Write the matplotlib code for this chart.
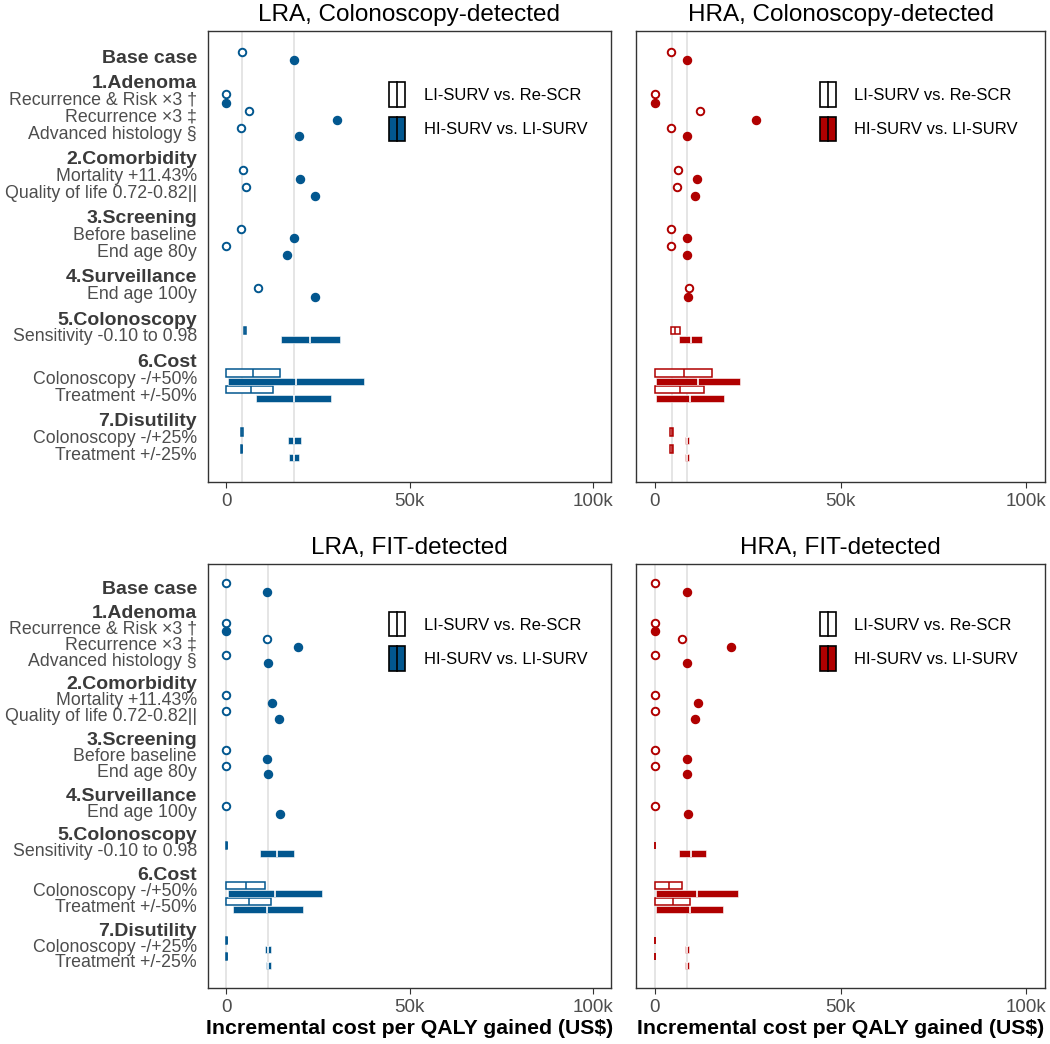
import matplotlib
matplotlib.use("Agg")
import matplotlib.pyplot as plt
from matplotlib.patches import Rectangle
from matplotlib.lines import Line2D
from matplotlib.legend_handler import HandlerBase
import numpy as np

plt.rcParams['font.family'] = ['Liberation Sans', 'DejaVu Sans']

# ---------------- data (values in US$ thousands) ----------------
base_label = "Base case"
groups = ["1.Adenoma", "2.Comorbidity", "3.Screening", "4.Surveillance",
          "5.Colonoscopy", "6.Cost", "7.Disutility"]
group_items = [
    ["Recurrence & Risk ×3 †", "Recurrence ×3 ‡", "Advanced histology §"],
    ["Mortality +11.43%", "Quality of life 0.72-0.82||"],
    ["Before baseline", "End age 80y"],
    ["End age 100y"],
    ["Sensitivity -0.10 to 0.98"],
    ["Colonoscopy -/+50%", "Treatment +/-50%"],
    ["Colonoscopy -/+25%", "Treatment +/-25%"],
]
# first 9 data rows are single point estimates, last 5 are ranges
panel_titles = ["LRA, Colonoscopy-detected", "HRA, Colonoscopy-detected",
                "LRA, FIT-detected", "HRA, FIT-detected"]
series_names = ["LI-SURV vs. Re-SCR", "HI-SURV vs. LI-SURV"]

# base-case reference lines (LI, HI)
base_lines = [(4.3, 18.6), (4.6, 8.75), (0.0, 11.4), (0.0, 8.75)]

# point rows: Base, RecRisk, Rec, Adv, Mort, QoL, Before, End80, End100
li_points = [
    [4.2, 0.0, 6.1, 4.1, 4.5, 5.5, 4.1, 0.0, 8.7],
    [4.4, 0.0, 12.1, 4.4, 6.25, 5.9, 4.4, 4.4, 9.2],
    [0.0, 0.0, 11.2, 0.0, 0.0, 0.0, 0.0, 0.0, 0.0],
    [0.0, 0.0, 7.4, 0.0, 0.0, 0.0, 0.0, 0.0, 0.0],
]
hi_points = [
    [18.6, 0.0, 30.1, 19.9, 20.2, 24.1, 18.5, 16.6, 24.1],
    [8.7, 0.0, 27.2, 8.7, 11.3, 11.0, 8.7, 8.7, 8.9],
    [11.2, 0.0, 19.6, 11.5, 12.4, 14.5, 11.2, 11.5, 14.75],
    [8.7, 0.0, 20.5, 8.7, 11.6, 11.0, 8.7, 8.7, 8.9],
]
# range rows: Sensitivity, Colonoscopy50, Treatment50, Colonoscopy25, Treatment25
li_low = [
    [4.8, 0.0, 0.0, 4.0, 4.05],
    [4.5, 0.1, 0.0, 4.1, 4.1],
    [0.0, 0.0, 0.0, 0.0, 0.0],
    [0.0, 0.0, 0.0, 0.0, 0.0],
]
li_mid = [
    [5.1, 7.4, 6.8, 4.3, 4.2],
    [5.5, 7.9, 6.7, 4.6, 4.6],
    [0.05, 5.3, 6.2, 0.05, 0.05],
    [0.05, 3.75, 4.9, 0.05, 0.05],
]
li_high = [
    [5.4, 14.6, 12.7, 4.6, 4.35],
    [6.8, 15.5, 13.3, 5.0, 5.0],
    [0.1, 10.5, 12.3, 0.1, 0.1],
    [0.1, 7.3, 9.4, 0.1, 0.1],
]
hi_low = [
    [14.8, 0.4, 8.1, 16.9, 17.2],
    [6.5, 0.4, 0.4, 8.2, 8.2],
    [9.1, 0.4, 1.7, 10.6, 10.7],
    [6.5, 0.4, 0.4, 8.2, 8.2],
]
hi_mid = [
    [22.8, 19.1, 18.6, 18.6, 18.6],
    [9.7, 11.7, 9.6, 8.7, 8.7],
    [13.75, 13.4, 11.2, 11.4, 11.4],
    [9.9, 11.4, 9.4, 8.7, 8.7],
]
hi_high = [
    [31.1, 37.7, 28.7, 20.5, 19.9],
    [12.8, 22.9, 18.7, 9.2, 9.2],
    [18.5, 26.2, 20.9, 12.3, 12.1],
    [13.7, 22.5, 18.4, 9.2, 9.2],
]
xticks_vals = [0, 50, 100]
xtick_labels = ["0", "50k", "100k"]
xlabel = "Incremental cost per QALY gained (US$)"

colors = ["#02578F", "#B00000", "#02578F", "#B00000"]

# ---------------- layout of rows ----------------
labels = [base_label]
ypos = [0.0]
bold = [True]
data_y = [0.0]
p = 0.0
for g, items in zip(groups, group_items):
    p += 1.5
    labels.append(g); ypos.append(p); bold.append(True)
    for it in items:
        p += 1.0
        labels.append(it); ypos.append(p); bold.append(False)
        data_y.append(p)
data_y = np.array(data_y)
point_y = data_y[:9]
range_y = data_y[9:]

off = 0.26
bh = 0.44

W, H = 1050, 1044
fig = plt.figure(figsize=(W / 100, H / 100), dpi=100)

def px_rect(x0, x1, y0, y1):
    return [x0 / W, 1 - y1 / H, (x1 - x0) / W, (y1 - y0) / H]

rects = [px_rect(208, 611, 31, 482), px_rect(636, 1045, 31, 482),
         px_rect(208, 611, 564, 988), px_rect(636, 1045, 564, 988)]


class HandlerCrossbar(HandlerBase):
    def create_artists(self, legend, orig_handle, xdescent, ydescent,
                       width, height, fontsize, trans):
        fc = orig_handle.get_facecolor()
        r = Rectangle((-xdescent, -ydescent), width, height, facecolor=fc,
                      edgecolor="black", lw=1.2, transform=trans)
        l = Line2D([-xdescent + width / 2] * 2, [-ydescent, -ydescent + height],
                   color="black", lw=1.2, transform=trans)
        return [r, l]


txt_col = "#4D4D4D"
for i in range(4):
    ax = fig.add_axes(rects[i])
    c = colors[i]
    for v in base_lines[i]:
        ax.axvline(v, color="#E3E3E3", lw=1.3, zorder=0)
    # points
    ax.plot(li_points[i], point_y - off, ls="none", marker="o", ms=5.4,
            mfc="white", mec=c, mew=1.4, zorder=3)
    ax.plot(hi_points[i], point_y + off, ls="none", marker="o", ms=5.8,
            mfc=c, mec=c, mew=1.0, zorder=3)
    # ranges (crossbars)
    lo = np.array(li_low[i]); hi_ = np.array(li_high[i])
    ax.barh(range_y - off, hi_ - lo, left=lo, height=bh, facecolor="white",
            edgecolor=c, lw=1.1, zorder=2)
    ax.vlines(li_mid[i], range_y - off - bh / 2, range_y - off + bh / 2,
              color=c, lw=1.1, zorder=2.5)
    lo = np.array(hi_low[i]); hi_ = np.array(hi_high[i])
    ax.barh(range_y + off, hi_ - lo, left=lo, height=bh, facecolor=c,
            edgecolor="white", lw=0.4, zorder=2)
    ax.vlines(hi_mid[i], range_y + off - bh / 2, range_y + off + bh / 2,
              color="white", lw=1.2, zorder=2.5)

    ax.set_xlim(-5, 105)
    ax.set_ylim(25.2, -1.48)
    ax.set_xticks(xticks_vals)
    ax.set_xticklabels(xtick_labels)
    ax.tick_params(axis="x", colors="#333333", labelcolor=txt_col,
                   labelsize=13.5, length=4, width=0.8, pad=4)
    ax.set_yticks(ypos)
    if i % 2 == 0:
        ax.set_yticklabels(labels)
        for t, b in zip(ax.get_yticklabels(), bold):
            t.set_fontweight("bold" if b else "normal")
            t.set_color("#3A3A3A" if b else txt_col)
            t.set_fontsize(14 if b else 12.8)
        ax.tick_params(axis="y", length=0, pad=8)
    else:
        ax.set_yticklabels([])
        ax.tick_params(axis="y", length=0)
    for s in ax.spines.values():
        s.set_color("#333333")
        s.set_linewidth(1.0)
    ax.set_title(panel_titles[i], fontsize=17.5, pad=7, color="black")
    if i >= 2:
        ax.set_xlabel(xlabel, fontsize=15.3, fontweight="bold", labelpad=2,
                      color="black")
    hs = [Rectangle((0, 0), 1, 1, facecolor="white"),
          Rectangle((0, 0), 1, 1, facecolor=c)]
    ax.legend(hs, series_names, handler_map={Rectangle: HandlerCrossbar()},
              loc="upper left", bbox_to_anchor=(0.45, 0.886), frameon=False,
              fontsize=12, handlelength=0.95, handleheight=1.85,
              handletextpad=1.1, labelspacing=0.6, borderpad=0,
              borderaxespad=0)

fig.savefig("out.png", dpi=100)
